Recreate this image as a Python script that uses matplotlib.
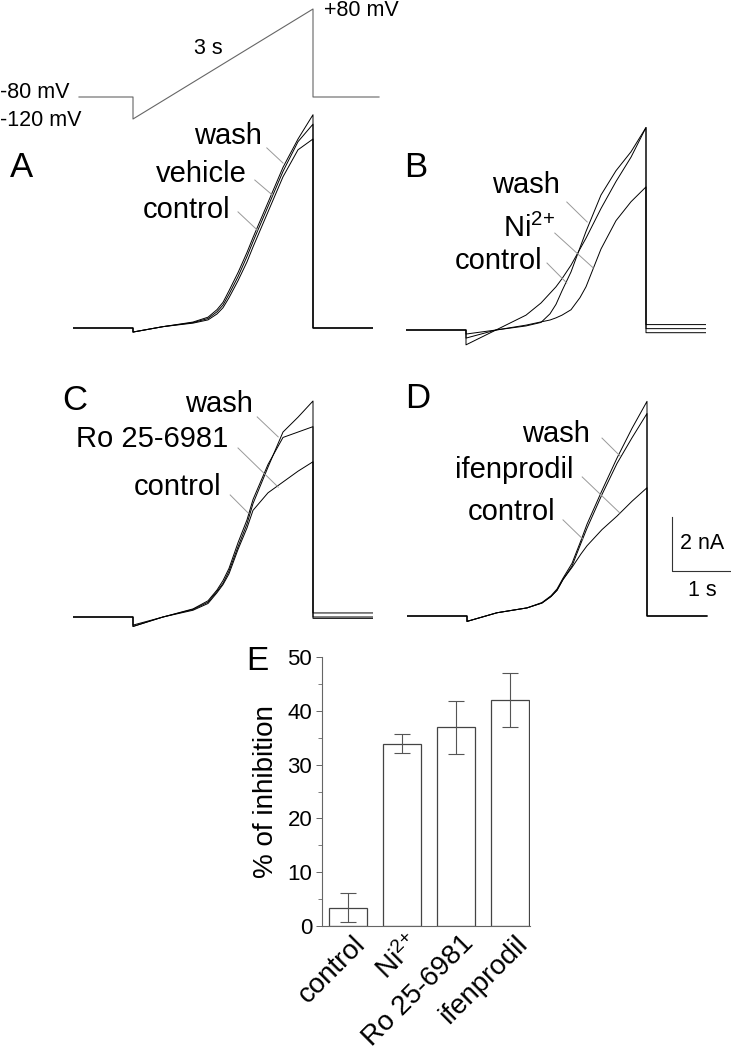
import numpy as np
import matplotlib
matplotlib.use('Agg')
import matplotlib.pyplot as plt
import matplotlib.transforms as mtransforms

plt.rcParams['font.family'] = ['Liberation Sans', 'DejaVu Sans']
plt.rcParams['mathtext.fontset'] = 'custom'
plt.rcParams['mathtext.rm'] = 'Liberation Sans'
plt.rcParams['mathtext.it'] = 'Liberation Sans:italic'
plt.rcParams['mathtext.bf'] = 'Liberation Sans:bold'

# ---- data ----
# voltage protocol (s, mV)
prot_t = [0.1, 1.0, 1.0, 4.0, 4.0, 5.1]
prot_mv = [-80, -80, -120, 80, -80, -80]

# current traces (nA) sampled during the ramp
ramp_t = [1.0, 1.5, 2.0, 2.25, 2.4, 2.5, 2.6, 2.75, 2.9, 3.0, 3.25, 3.5, 3.75, 4.0]

a_wash = [-0.15, 0.05, 0.22, 0.4, 0.68, 0.95, 1.38, 2.05, 2.8, 3.35, 4.65, 5.95, 7.0, 7.9]
a_vehicle = [-0.15, 0.05, 0.2, 0.35, 0.6, 0.85, 1.25, 1.9, 2.65, 3.2, 4.5, 5.8, 6.9, 7.55]
a_control = [-0.15, 0.05, 0.18, 0.3, 0.52, 0.75, 1.12, 1.75, 2.45, 3.0, 4.3, 5.6, 6.6, 7.0]
a_post = [0.0, 0.0, 0.0]

b_control = [-0.55, 0.0, 0.55, 1.0, 1.36, 1.6, 1.9, 2.4, 3.0, 3.4, 4.5, 5.5, 6.4, 7.5]
b_wash = [-0.3, 0.0, 0.15, 0.28, 0.6, 0.95, 1.45, 2.15, 3.05, 3.65, 5.0, 5.9, 6.6, 7.5]
b_ni = [-0.15, 0.0, 0.18, 0.3, 0.37, 0.45, 0.55, 0.75, 1.2, 1.6, 3.0, 4.05, 4.75, 5.3]
b_post = [0.05, 0.2, -0.1]

c_wash = [-0.35, 0.0, 0.28, 0.55, 0.95, 1.25, 1.7, 2.6, 3.45, 4.2, 5.55, 6.85, 7.4, 8.0]
c_control = [-0.35, 0.0, 0.3, 0.6, 1.0, 1.35, 1.8, 2.75, 3.6, 4.35, 5.65, 6.65, 6.85, 7.05]
c_ro = [-0.3, 0.0, 0.25, 0.5, 0.9, 1.2, 1.6, 2.5, 3.3, 3.95, 4.6, 5.0, 5.4, 5.75]
c_post = [0.15, 0.0, -0.05]

d_control = [-0.2, 0.12, 0.3, 0.5, 0.75, 1.0, 1.4, 1.95, 2.8, 3.4, 4.65, 5.85, 6.95, 7.95]
d_wash = [-0.2, 0.12, 0.3, 0.48, 0.72, 0.95, 1.35, 1.85, 2.7, 3.25, 4.5, 5.65, 6.6, 7.5]
d_ifen = [-0.2, 0.12, 0.3, 0.48, 0.72, 0.95, 1.35, 1.8, 2.3, 2.6, 3.2, 3.7, 4.25, 4.75]
d_post = [0.0, 0.0, 0.0]

# summary (panel E)
groups = ['control', r'Ni$^{\mathregular{2{+}}}$', 'Ro 25-6981', 'ifenprodil']
inhibition = [3.4, 33.9, 36.9, 42.0]
inhibition_err = [2.7, 1.8, 5.0, 5.0]

# ---- layout ----
W, H = 731, 1050
PX_S = 60.0    # pixels per second
PX_NA = 27.0   # pixels per nA
PX_MV = 0.55   # pixels per mV

fig = plt.figure(figsize=(W / 100, H / 100), dpi=100)


def add_px_axes(left, top, width, height):
    return fig.add_axes([left / W, 1 - (top + height) / H, width / W, height / H])


def ftext(x, y, s, **kw):
    fig.text(x / W, 1 - y / H, s, **kw)


def panel(x0, y0, tmax=5.0):
    imin, imax = -1.5, 9.5
    ax = add_px_axes(x0, y0 - imax * PX_NA, tmax * PX_S, (imax - imin) * PX_NA)
    ax.set_xlim(0, tmax)
    ax.set_ylim(imin, imax)
    ax.axis('off')
    return ax


def draw_trace(ax, ramp, post):
    t = [0.0, 1.0] + ramp_t + [4.0, 5.0]
    y = [0.0, 0.0] + ramp + [post, post]
    ax.plot(t, y, color='black', lw=0.7, solid_joinstyle='round')


def label(ax, s, tx, iy, t1, i1, t2, i2):
    ax.text(tx, iy, s, ha='right', va='baseline', fontsize=21)
    ax.plot([t1, t2], [i1, i2], color='#999999', lw=0.7)


# voltage protocol
ax_p = add_px_axes(73, 53 - 90 * PX_MV, 5.2 * PX_S, 220 * PX_MV)
ax_p.set_xlim(0, 5.2)
ax_p.set_ylim(-130, 90)
ax_p.axis('off')
ax_p.plot(prot_t, prot_mv, color='#666666', lw=0.8)
ftext(0, 93, '-80 mV', fontsize=15.5, va='center', ha='left')
ftext(0, 120, '-120 mV', fontsize=15.5, va='center', ha='left')
ftext(208, 48, '3 s', fontsize=15.5, va='center', ha='center')
ftext(324, 11, '+80 mV', fontsize=15.5, va='center', ha='left')

# panel A
ax_a = panel(73, 328)
for tr, p in zip([a_control, a_vehicle, a_wash], a_post):
    draw_trace(ax_a, tr, p)
label(ax_a, 'wash', 3.15, 6.81, 3.23, 6.67, 3.5, 6.11)
label(ax_a, 'vehicle', 2.9, 5.41, 3.03, 5.48, 3.32, 4.93)
label(ax_a, 'control', 2.62, 4.07, 2.75, 4.3, 3.07, 3.63)

# panel B
ax_b = panel(406, 330)
for tr, p in zip([b_control, b_wash, b_ni], b_post):
    draw_trace(ax_b, tr, p)
label(ax_b, 'wash', 2.57, 5.07, 2.68, 4.74, 3.02, 4.0)
label(ax_b, r'Ni$^{\mathregular{2{+}}}$', 2.48, 3.44, 2.48, 3.59, 3.12, 2.3)
label(ax_b, 'control', 2.28, 2.26, 2.35, 2.48, 2.68, 1.74)

# panel C
ax_c = panel(73, 617)
for tr, p in zip([c_wash, c_control, c_ro], c_post):
    draw_trace(ax_c, tr, p)
label(ax_c, 'wash', 3.0, 7.59, 3.07, 7.41, 3.42, 6.67)
label(ax_c, 'Ro 25-6981', 2.58, 6.3, 2.75, 6.26, 3.42, 4.81)
label(ax_c, 'control', 2.47, 4.52, 2.62, 4.52, 2.92, 3.85)

# panel D
ax_d = panel(407, 616, tmax=5.5)
for tr, p in zip([d_control, d_wash, d_ifen], d_post):
    draw_trace(ax_d, tr, p)
label(ax_d, 'wash', 3.05, 6.44, 3.25, 6.59, 3.55, 5.93)
label(ax_d, 'ifenprodil', 2.77, 5.11, 2.92, 5.15, 3.55, 3.81)
label(ax_d, 'control', 2.47, 3.56, 2.6, 3.56, 2.93, 2.85)

# scale bar (2 nA, 1 s)
ax_d.plot([4.42, 4.42, 5.42], [3.67, 1.67, 1.67], color='#333333', lw=0.8, clip_on=False)
ax_d.text(4.55, 2.67, '2 nA', fontsize=15.5, ha='left', va='center')
ax_d.text(4.92, 0.96, '1 s', fontsize=15.5, ha='center', va='center')

# panel letters
for s, x, y, fs in [('A', 22, 167, 25), ('B', 416, 167, 25), ('C', 75, 400, 25),
                    ('D', 418, 398, 25), ('E', 257, 662, 24)]:
    ftext(x, y, s, fontsize=fs, ha='center', va='center')

# panel E: bar chart
ax_e = add_px_axes(322, 657, 208, 269)
xpos = np.arange(len(groups))
ax_e.bar(xpos, inhibition, width=0.7, color='white', edgecolor='#444444', lw=0.9,
         yerr=inhibition_err, capsize=6,
         error_kw=dict(ecolor='#555555', elinewidth=0.8, capthick=0.8))
ax_e.set_xlim(-0.48, 3.37)
ax_e.set_ylim(0, 50)
ax_e.set_yticks(np.arange(0, 51, 10))
ax_e.set_yticks(np.arange(0, 51, 5), minor=True)
ax_e.tick_params(axis='y', which='major', length=4, width=0.7, color='#666666',
                 labelsize=16, pad=3)
ax_e.tick_params(axis='y', which='minor', length=3, width=0.6, color='#666666')
ax_e.set_xticks(xpos)
ax_e.set_xticklabels(groups, rotation=45, ha='right', va='center',
                     rotation_mode='anchor', fontsize=20)
ax_e.tick_params(axis='x', length=0, pad=10)
offset = mtransforms.ScaledTranslation(14 / 100, 0, fig.dpi_scale_trans)
for lbl in ax_e.get_xticklabels():
    lbl.set_transform(lbl.get_transform() + offset)
for side in ['top', 'right']:
    ax_e.spines[side].set_visible(False)
for side in ['left', 'bottom']:
    ax_e.spines[side].set_color('#666666')
    ax_e.spines[side].set_linewidth(0.8)
ax_e.set_ylabel('% of inhibition', fontsize=20, labelpad=6)

fig.savefig('out.png', dpi=100, facecolor='white')
